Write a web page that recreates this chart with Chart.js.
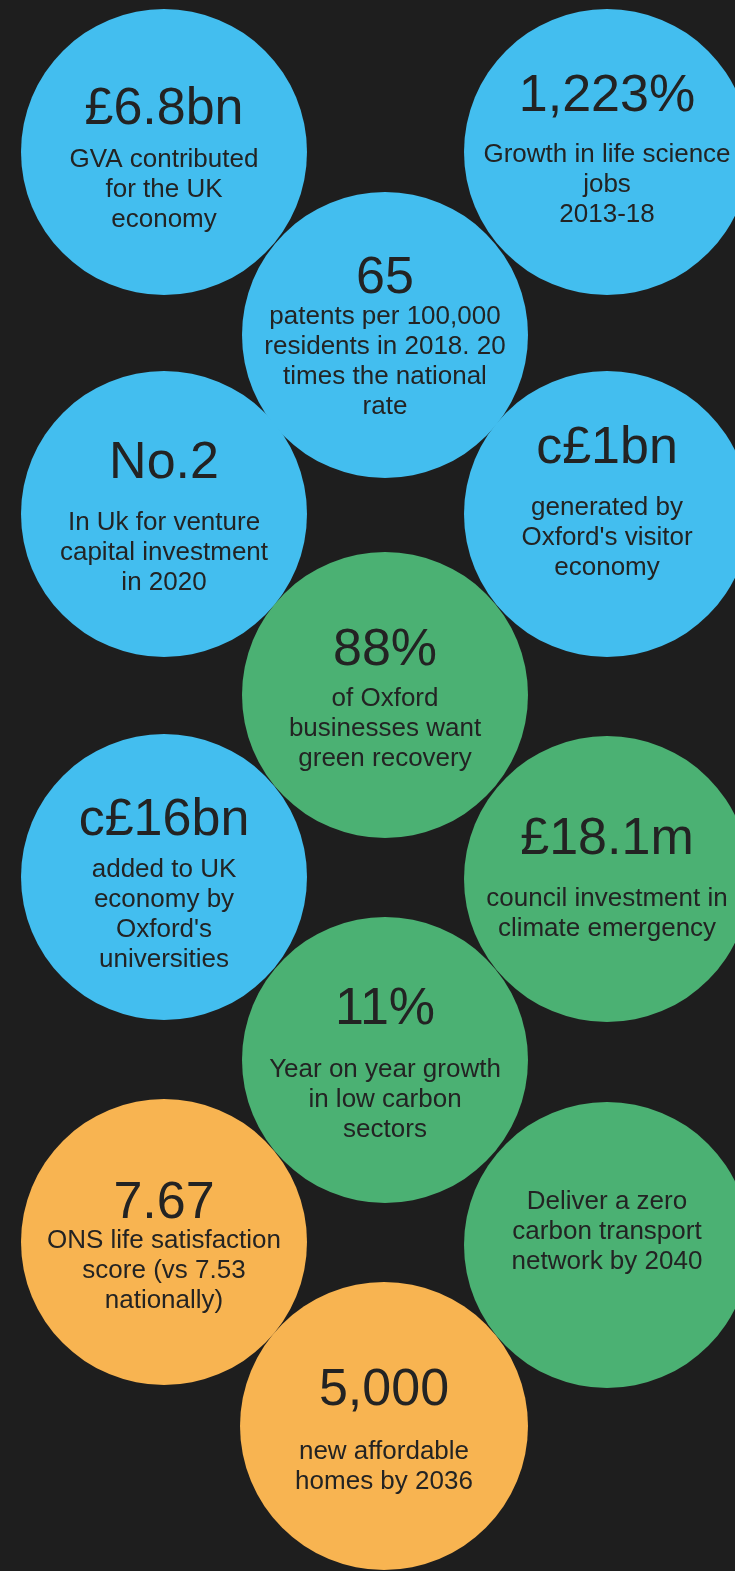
<!DOCTYPE html>
<html>
<head>
<meta charset="utf-8">
<script src="https://cdn.jsdelivr.net/npm/chart.js@4/dist/chart.umd.min.js"></script>
<style>
  html, body { margin: 0; padding: 0; background: #1e1e1e; }
  #wrap { width: 735px; height: 1571px; position: relative; }
</style>
</head>
<body>
<div id="wrap"><canvas id="c"></canvas></div>
<script>
// ---- data ----
const headlines = ['£6.8bn', '1,223%', '65', 'No.2', 'c£1bn', '88%', 'c£16bn', '£18.1m', '11%', '7.67', '', '5,000'];
const descriptions = [
  ['GVA contributed', 'for the UK', 'economy'],
  ['Growth in life science', 'jobs', '2013-18'],
  ['patents per 100,000', 'residents in 2018. 20', 'times the national', 'rate'],
  ['In Uk for venture', 'capital investment', 'in 2020'],
  ['generated by', "Oxford's visitor", 'economy'],
  ['of Oxford', 'businesses want', 'green recovery'],
  ['added to UK', 'economy by', "Oxford's", 'universities'],
  ['council investment in', 'climate emergency'],
  ['Year on year growth', 'in low carbon', 'sectors'],
  ['ONS life satisfaction', 'score (vs 7.53', 'nationally)'],
  ['Deliver a zero', 'carbon transport', 'network by 2040'],
  ['new affordable', 'homes by 2036']
];
const themes = ['economy', 'economy', 'economy', 'economy', 'economy', 'green', 'economy', 'green', 'green', 'wellbeing', 'green', 'wellbeing'];
const xValues = [164, 607, 385, 164, 607, 385, 164, 607, 385, 164, 607, 384];
const yValues = [152, 152, 335, 514, 514, 695, 877, 879, 1060, 1242, 1245, 1426];
const sizes = [143, 143, 143, 143, 143, 143, 143, 143, 143, 143, 143, 144];

// ---- styles / layout ----
const themeColors = { economy: '#43BEEF', green: '#4BB173', wellbeing: '#F8B451' };
// baseline offsets from bubble centre: [headline, first line], line step
const textLayout = [
  [-28, 15], [-41, 10], [-42, -11], [-36, 16], [-51, 1], [-30, 11],
  [-42, 0], [-25, 27], [-36, 17], [-24, 6], [0, -36], [-21, 33]
];
const lineStep = 30;
const textColor = '#232323';
const bigFont = '52px "Liberation Sans", Arial, Helvetica, sans-serif';
const smallFont = '26px "Liberation Sans", Arial, Helvetica, sans-serif';

const labelPlugin = {
  id: 'bubbleLabels',
  afterDatasetsDraw(chart) {
    const ctx = chart.ctx;
    const meta = chart.getDatasetMeta(0);
    ctx.save();
    ctx.fillStyle = textColor;
    ctx.textAlign = 'center';
    ctx.textBaseline = 'alphabetic';
    meta.data.forEach((el, i) => {
      const lay = textLayout[i];
      if (headlines[i]) {
        ctx.font = bigFont;
        ctx.fillText(headlines[i], el.x, el.y + lay[0]);
      }
      ctx.font = smallFont;
      descriptions[i].forEach((line, j) => {
        ctx.fillText(line, el.x, el.y + lay[1] + j * lineStep);
      });
    });
    ctx.restore();
  }
};

new Chart(document.getElementById('c'), {
  type: 'bubble',
  data: {
    datasets: [{
      data: xValues.map((x, i) => ({ x: x, y: yValues[i], r: sizes[i] })),
      backgroundColor: themes.map(t => themeColors[t]),
      borderWidth: 0,
      hoverRadius: 0
    }]
  },
  options: {
    responsive: true,
    maintainAspectRatio: false,
    animation: false,
    events: [],
    layout: { padding: 0, autoPadding: false },
    clip: false,
    plugins: { legend: { display: false }, tooltip: { enabled: false } },
    scales: {
      x: { type: 'linear', min: 0, max: 735, display: false, offset: false },
      y: { type: 'linear', min: 0, max: 1571, reverse: true, display: false, offset: false }
    }
  },
  plugins: [labelPlugin]
});
</script>
</body>
</html>
